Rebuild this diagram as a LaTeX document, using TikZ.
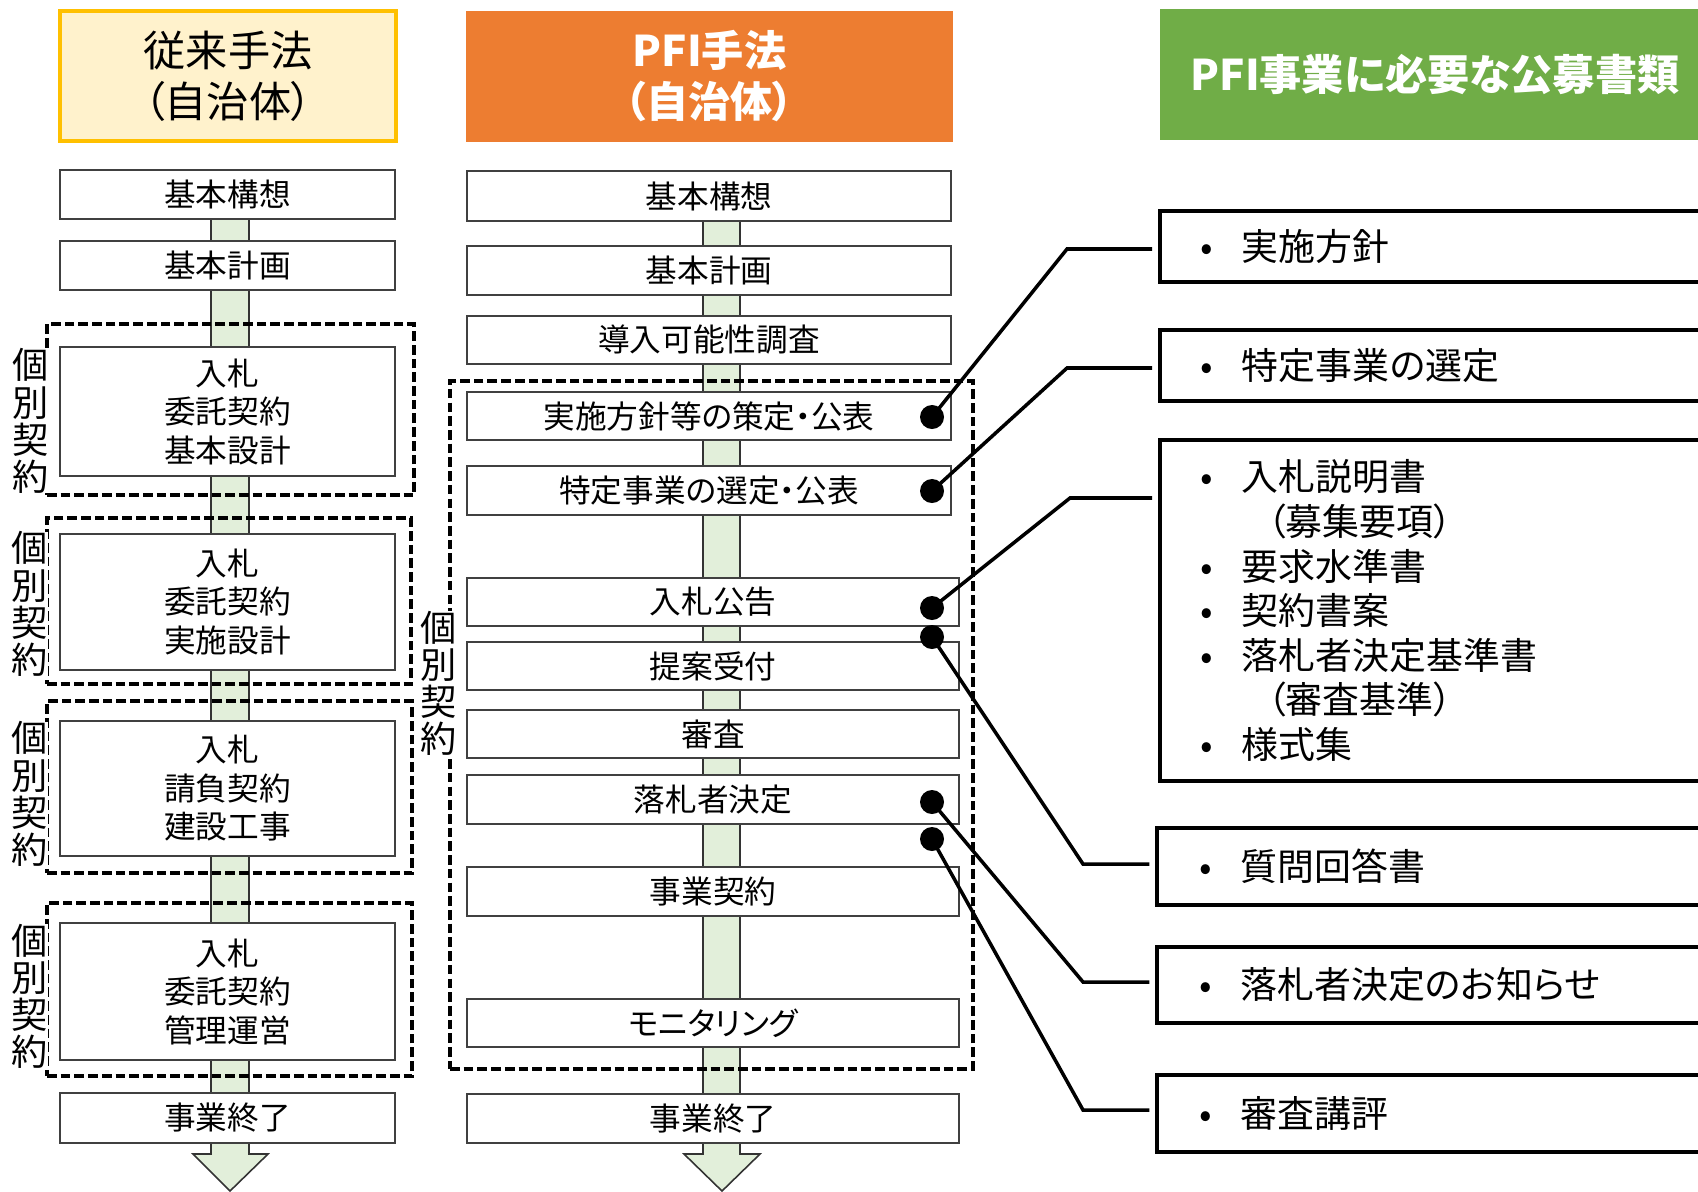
\documentclass[tikz,border=0pt]{standalone}
\usepackage{fontspec}
\setmainfont{Noto Sans CJK JP}[RawFeature=+palt]
\definecolor{hdrY}{HTML}{FFF2CC}
\definecolor{hdrYb}{HTML}{FFC000}
\definecolor{hdrO}{HTML}{ED7D31}
\definecolor{hdrG}{HTML}{70AD47}
\definecolor{shaftc}{HTML}{E2EFDA}
\newcommand{\placebox}[7]{\node[#1, minimum width={(#4-#2)*0.01cm}, minimum height={(#5-#3)*0.01cm}] (#6) at ({(#2+#4)/2},{(#3+#5)/2}) {#7};}
\newcommand{\itm}{\makebox[0.47cm][l]{\hspace{0.06cm}•}}
\begin{document}
\begin{tikzpicture}[x=0.01cm,y=-0.01cm,
  flowbox/.style={draw=black!75, line width=0.45pt, fill=white, align=center, inner sep=0pt, font=\fontsize{9}{10.95}\selectfont},
  grp/.style={draw=black, line width=1.05pt, dash pattern=on 2.75pt off 1.15pt},
  vlabel/.style={fill=white, inner sep=0pt, align=center, font=\fontsize{10.3}{10.55}\selectfont},
  docbox/.style={draw=black, line width=1pt, fill=white, align=left, inner ysep=0pt, inner xsep=0.35cm, text width=5.3cm, font=\fontsize{10.5}{12.66}\selectfont},
  hdr/.style={align=center, inner sep=0pt, font=\fontsize{12}{14.5}\selectfont},
  dot/.style={circle, fill=black, inner sep=0pt, minimum size=0.24cm},
  conn/.style={draw=black, line width=1pt},
  shaftst/.style={fill=shaftc, draw=black!80, line width=0.45pt}
]
\clip (0,0) rectangle (1698,1191);
\fill[white] (0,0) rectangle (1698,1191);

% headers
\placebox{hdr, fill=hdrY, draw=hdrYb, line width=1.15pt}{60}{11}{396}{141}{H1}{従来手法\\（自治体）}
\placebox{hdr, fill=hdrO, text=white, font=\fontsize{12}{14.5}\selectfont\bfseries}{466}{11}{953}{142}{H2}{PFI手法\\（自治体）}
\placebox{hdr, fill=hdrG, text=white, font=\fontsize{12}{14.5}\selectfont\bfseries}{1160}{9}{1710}{140}{H3}{PFI事業に必要な公募書類}

% shafts
\draw[shaftst] (211,195) -- (211,1154) -- (193,1154) -- (230,1191) -- (268,1154) -- (249,1154) -- (249,195) -- cycle;
\draw[shaftst] (703,196) -- (703,1154) -- (684,1154) -- (722,1191) -- (760,1154) -- (740,1154) -- (740,196) -- cycle;

% left column
\placebox{flowbox}{60}{170}{395}{219}{L1}{基本構想}
\placebox{flowbox}{60}{241}{395}{290}{L2}{基本計画}
\placebox{flowbox}{60}{347}{395}{476}{L3}{入札\\委託契約\\基本設計}
\placebox{flowbox}{60}{534}{395}{670}{L4}{入札\\委託契約\\実施設計}
\placebox{flowbox}{60}{721}{395}{856}{L5}{入札\\請負契約\\建設工事}
\placebox{flowbox}{60}{923}{395}{1060}{L6}{入札\\委託契約\\管理運営}
\placebox{flowbox}{60}{1093}{395}{1143}{L7}{事業終了}

\placebox{grp}{47}{324}{414}{495}{G1}{}
\placebox{grp}{47}{518}{411}{684}{G2}{}
\placebox{grp}{47}{701}{412}{873}{G3}{}
\placebox{grp}{47}{903}{412}{1076}{G4}{}
\node[vlabel] (K1) at (31,421) {個\\別\\契\\約};
\node[vlabel] (K2) at (30,604) {個\\別\\契\\約};
\node[vlabel] (K3) at (30,794) {個\\別\\契\\約};
\node[vlabel] (K4) at (30,996) {個\\別\\契\\約};

% PFI column
\placebox{flowbox}{467}{171}{951}{221}{P1}{基本構想}
\placebox{flowbox}{467}{246}{951}{295}{P2}{基本計画}
\placebox{flowbox}{467}{316}{951}{364}{P3}{導入可能性調査}
\placebox{flowbox}{467}{392}{951}{440}{P4}{実施方針等の策定・公表}
\placebox{flowbox}{467}{466}{951}{515}{P5}{特定事業の選定・公表}
\placebox{flowbox}{467}{578}{959}{626}{P6}{入札公告}
\placebox{flowbox}{467}{642}{959}{690}{P7}{提案受付}
\placebox{flowbox}{467}{710}{959}{758}{P8}{審査}
\placebox{flowbox}{467}{775}{959}{824}{P9}{落札者決定}
\placebox{flowbox}{467}{867}{959}{916}{P10}{事業契約}
\placebox{flowbox}{467}{999}{959}{1047}{P11}{モニタリング}
\placebox{flowbox}{467}{1094}{959}{1143}{P12}{事業終了}
\placebox{grp}{450}{381}{973}{1069}{GP}{}
\node[vlabel] (KP) at (438.5,683.5) {個\\別\\契\\約};

% document boxes
\placebox{docbox}{1160}{211}{1760}{282}{R1}{\itm 実施方針}
\placebox{docbox}{1160}{330}{1760}{401}{R2}{\itm 特定事業の選定}
\placebox{docbox}{1160}{440}{1760}{781}{R3}{\itm 入札説明書\\
\hspace*{0.725cm}（募集要項）\\
\itm 要求水準書\\
\itm 契約書案\\
\itm 落札者決定基準書\\
\hspace*{0.725cm}（審査基準）\\
\itm 様式集}
\placebox{docbox}{1157}{828}{1760}{905}{R4}{\itm 質問回答書}
\placebox{docbox}{1157}{947}{1760}{1023}{R5}{\itm 落札者決定のお知らせ}
\placebox{docbox}{1157}{1075}{1760}{1152}{R6}{\itm 審査講評}

% dots and elbows
\node[dot] (d1) at (932,417) {};
\node[dot] (d2) at (932,491) {};
\node[dot] (d3) at (932,608) {};
\node[dot] (d4) at (932,637) {};
\node[dot] (d5) at (932,802) {};
\node[dot] (d6) at (932,839) {};
\coordinate (e1) at (1067,249);
\coordinate (e2) at (1067,368);
\coordinate (e3) at (1070,498);
\coordinate (e4) at (1083,864);
\coordinate (e5) at (1083,982);
\coordinate (e6) at (1083,1110);

\draw[conn, shorten >=0.06cm] (d1.center) -- (e1) -- (e1 -| R1.west);
\draw[conn, shorten >=0.06cm] (d2.center) -- (e2) -- (e2 -| R2.west);
\draw[conn, shorten >=0.06cm] (d3.center) -- (e3) -- (e3 -| R3.west);
\draw[conn, shorten >=0.06cm] (d4.center) -- (e4) -- (e4 -| R4.west);
\draw[conn, shorten >=0.06cm] (d5.center) -- (e5) -- (e5 -| R5.west);
\draw[conn, shorten >=0.06cm] (d6.center) -- (e6) -- (e6 -| R6.west);
\end{tikzpicture}
\end{document}
